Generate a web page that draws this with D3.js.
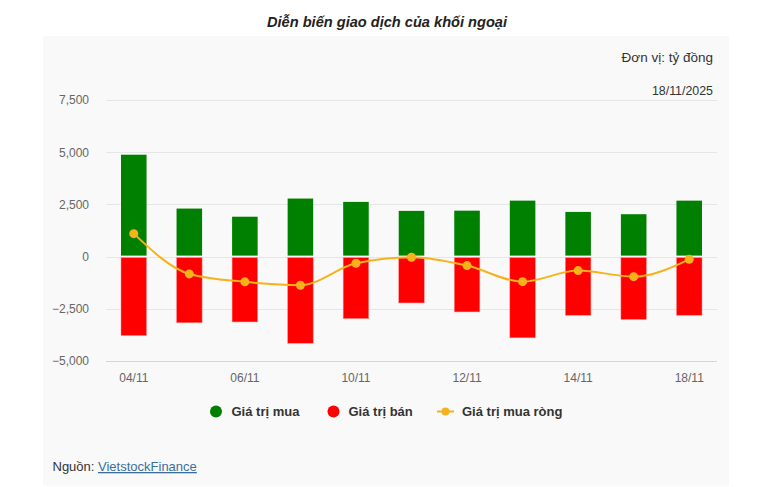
<!DOCTYPE html>
<html><head><meta charset="utf-8">
<script src="https://cdn.jsdelivr.net/npm/d3@7"></script>
<style>
body{margin:0;background:#fff;font-family:Arial,"Liberation Sans",sans-serif;}
</style></head>
<body>
<svg id="c" width="768" height="487"></svg>
<script>
const categories = ["04/11","05/11","06/11","07/11","10/11","11/11","12/11","13/11","14/11","17/11","18/11"];
const buyValues  = [4880, 2300, 1910, 2780, 2620, 2190, 2200, 2680, 2140, 2030, 2680];
const sellValues = [-3780, -3170, -3130, -4150, -2970, -2220, -2650, -3890, -2810, -3010, -2810];
const netValues  = [1100, -830, -1210, -1370, -320, -30, -430, -1200, -670, -960, -130];
const yTicks = [-5000, -2500, 0, 2500, 5000, 7500];
const xTickLabels = ["04/11","06/11","10/11","12/11","14/11","18/11"];

const svg = d3.select("#c");
svg.append("rect").attr("x",43).attr("y",36).attr("width",686).attr("height",450).attr("fill","#f9f9f9");

svg.append("text").attr("x",387).attr("y",27).attr("text-anchor","middle")
  .attr("font-size",14.6).attr("font-weight","bold").attr("font-style","italic").attr("fill","#222")
  .text("Diễn biến giao dịch của khối ngoại");
svg.append("text").attr("x",713).attr("y",62).attr("text-anchor","end")
  .attr("font-size",13.5).attr("fill","#333").text("Đơn vị: tỷ đồng");
svg.append("text").attr("x",713).attr("y",95).attr("text-anchor","end")
  .attr("font-size",12.4).attr("fill","#333").text("18/11/2025");

const x = d3.scaleBand().domain(categories).range([106,717]).paddingInner(0.54).paddingOuter(0.27);
const y = d3.scaleLinear().domain([-5000,7500]).range([361,100]);

// grid
svg.append("g").selectAll("line").data(yTicks.filter(t=>t!==-5000)).join("line")
  .attr("x1",106).attr("x2",717).attr("y1",d=>Math.round(y(d))+0.5).attr("y2",d=>Math.round(y(d))+0.5)
  .attr("stroke","#e6e6e6");
svg.append("line").attr("x1",106).attr("x2",717).attr("y1",Math.round(y(-5000))+0.5).attr("y2",Math.round(y(-5000))+0.5)
  .attr("stroke","#ccd6eb");

// y axis labels
const yAxis = d3.axisLeft(y).tickValues(yTicks).tickSize(0).tickPadding(0).tickFormat(d3.format(","));
const yg = svg.append("g").attr("transform","translate(89,0)").call(yAxis);
yg.select(".domain").remove();
yg.selectAll("text").attr("font-size",12).attr("fill","#666").attr("font-family","Arial,'Liberation Sans',sans-serif").attr("dy","0.32em");

// x axis labels
const xAxis = d3.axisBottom(x).tickValues(xTickLabels).tickSize(0).tickPadding(0);
const xg = svg.append("g").attr("transform","translate(0,373)").call(xAxis);
xg.select(".domain").remove();
xg.selectAll("text").attr("font-size",12).attr("fill","#666").attr("font-family","Arial,'Liberation Sans',sans-serif").attr("dy","0.71em");

// bars
svg.append("g").selectAll("rect").data(buyValues).join("rect")
  .attr("x",(d,i)=>x(categories[i])).attr("width",x.bandwidth())
  .attr("y",d=>y(d)).attr("height",d=>y(0)-y(d)-1)
  .attr("fill","#008000");
svg.append("g").selectAll("rect").data(sellValues).join("rect")
  .attr("x",(d,i)=>x(categories[i])).attr("width",x.bandwidth())
  .attr("y",d=>y(0)+1).attr("height",d=>y(d)-y(0)-1)
  .attr("fill","#ff0000").attr("stroke","#ff9090").attr("stroke-width",0.5);

// net line
const cx = (i)=>x(categories[i])+x.bandwidth()/2;
const line = d3.line().x((d,i)=>cx(i)).y(d=>y(d)).curve(d3.curveMonotoneX);
svg.append("path").datum(netValues).attr("d",line).attr("fill","none")
  .attr("stroke","#f5b21a").attr("stroke-width",2);
svg.append("g").selectAll("circle").data(netValues).join("circle")
  .attr("cx",(d,i)=>cx(i)).attr("cy",d=>y(d)).attr("r",4.5).attr("fill","#f5b21a");

// legend
const lg = svg.append("g").attr("font-size",13).attr("font-weight","bold").attr("fill","#333");
lg.append("circle").attr("cx",216).attr("cy",411.5).attr("r",6).attr("fill","#008000");
lg.append("text").attr("x",231.5).attr("y",416).text("Giá trị mua");
lg.append("circle").attr("cx",333.5).attr("cy",411.5).attr("r",6).attr("fill","#ff0000");
lg.append("text").attr("x",348.5).attr("y",416).text("Giá trị bán");
lg.append("line").attr("x1",437).attr("x2",454).attr("y1",411.5).attr("y2",411.5).attr("stroke","#f5b21a").attr("stroke-width",2);
lg.append("circle").attr("cx",445.5).attr("cy",411.5).attr("r",4).attr("fill","#f5b21a");
lg.append("text").attr("x",462).attr("y",416).text("Giá trị mua ròng");

// source
const src = svg.append("text").attr("x",52.5).attr("y",471).attr("font-size",13).attr("fill","#333");
src.append("tspan").text("Nguồn: ");
src.append("tspan").attr("fill","#3c6e9c").attr("text-decoration","underline").text("VietstockFinance");
</script>
</body></html>
